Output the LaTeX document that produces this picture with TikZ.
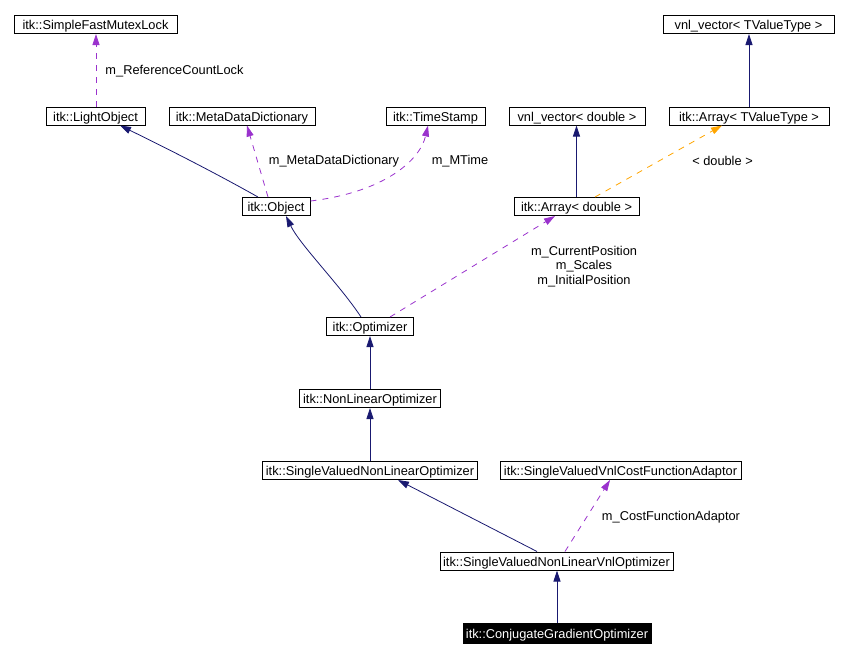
\documentclass[tikz,border=0pt]{standalone}
\usepackage{fontspec}
\setmainfont{Liberation Sans}
\usepackage{xcolor}
\usepackage{tikz}
\usetikzlibrary{arrows.meta, positioning, calc}

\definecolor{inhnavy}{RGB}{25,25,112}
\definecolor{usepurple}{RGB}{154,50,205}
\definecolor{tplorange}{RGB}{255,165,0}

\begin{document}
\begin{tikzpicture}[
  x=1pt, y=-1pt,
  % Node styles
  cls/.style={draw=black, fill=white, text=black, line width=1pt, inner sep=0pt,
              minimum height=18pt, text height=10pt, text depth=0pt,
              font=\fontsize{12.8}{15}\selectfont},
  self/.style={cls, fill=black, text=white},
  lbl/.style={font=\fontsize{12.8}{14.5}\selectfont, text=black, align=center, inner sep=0pt},
  % Arrow styles
  inh/.style={-{Triangle[length=11pt, width=7pt]}, color=inhnavy, line width=0.8pt},
  use/.style={-{Triangle[length=11pt, width=7pt]}, color=usepurple, line width=0.8pt,
              dash pattern=on 6pt off 6pt},
  tpl/.style={-{Triangle[length=11pt, width=7pt]}, color=tplorange, line width=0.8pt,
              dash pattern=on 6pt off 6pt},
]
  \useasboundingbox (0,0) rectangle (848,657);

  % ── Row 1 ──
  \node[cls, minimum width=163pt] (mutex) at (95.5,24.5) {itk::SimpleFastMutexLock};
  \node[cls, minimum width=171pt] (vnlt) at (748.5,24.5) {vnl\_vector< TValueType >};

  % ── Row 2 ──
  \node[cls, minimum width=99pt]  (light) at (95.5,116) {itk::LightObject};
  \node[cls, minimum width=146pt] (meta)  at (242,116) {itk::MetaDataDictionary};
  \node[cls, minimum width=99pt]  (stamp) at (435.5,116) {itk::TimeStamp};
  \node[cls, minimum width=136pt] (vnld)  at (577,116) {vnl\_vector< double >};
  \node[cls, minimum width=160pt] (arrt)  at (749,116) {itk::Array< TValueType >};

  % ── Row 3 ──
  \node[cls, minimum width=68pt]  (obj)  at (276,206.5) {itk::Object};
  \node[cls, minimum width=125pt] (arrd) at (576.5,206.5) {itk::Array< double >};

  % ── Optimizer chain ──
  \node[cls, minimum width=87pt]  (opt)   at (370,326.5) {itk::Optimizer};
  \node[cls, minimum width=141pt] (nlopt) at (370,398.5) {itk::NonLinearOptimizer};
  \node[cls, minimum width=215pt] (svnlo) at (370,470.5) {itk::SingleValuedNonLinearOptimizer};
  \node[cls, minimum width=241pt] (cfa)   at (620.5,470.5) {itk::SingleValuedVnlCostFunctionAdaptor};
  \node[cls, minimum width=233pt] (vnlo)  at (556.5,561) {itk::SingleValuedNonLinearVnlOptimizer};
  \node[self, minimum width=188pt, minimum height=20pt] (cgo) at (557,633) {itk::ConjugateGradientOptimizer};

  % ── Arrows: inheritance ──
  \draw[inh] ([xshift=-18pt]obj.north) .. controls (210,170) and (160,145) .. ([xshift=24.5pt]light.south);
  \draw[inh] ([xshift=-9pt]opt.north) .. controls (340,285) and (300,245) .. ([xshift=10pt]obj.south);
  \draw[inh] (arrd.north) -- (arrd.north |- vnld.south);
  \draw[inh] (arrt.north) -- (arrt.north |- vnlt.south);
  \draw[inh] (nlopt) -- (opt);
  \draw[inh] (svnlo) -- (nlopt);
  \draw[inh] ([xshift=-19.5pt]vnlo.north) -- ([xshift=28pt]svnlo.south);
  \draw[inh] (cgo.north) -- (cgo.north |- vnlo.south);

  % ── Arrows: members (dashed) ──
  \draw[use] ([xshift=0.5pt]light.north) -- ([xshift=0.5pt]mutex.south);
  \node[lbl] (lref) at (174.5,71) {m\_ReferenceCountLock};
  \draw[use] ([xshift=-8pt]obj.north) -- ([xshift=5pt]meta.south);
  \node[lbl] (lmeta) at (334,161) {m\_MetaDataDictionary};
  \draw[use] ([yshift=-4pt]obj.north east) .. controls (385,192) and (420,160) .. ([xshift=-7.5pt]stamp.south);
  \node[lbl] (ltime) at (460,161) {m\_MTime};
  \draw[use] ([xshift=20pt]opt.north) -- ([xshift=-21.5pt]arrd.south);
  \node[lbl] (lpos) at (584,266.5) {m\_CurrentPosition\\m\_Scales\\m\_InitialPosition};
  \draw[use] ([xshift=8.5pt]vnlo.north) -- ([xshift=-10.5pt]cfa.south);
  \node[lbl] (lcost) at (671,517) {m\_CostFunctionAdaptor};

  % ── Template instance ──
  \draw[tpl] ([xshift=18.5pt]arrd.north) -- ([xshift=-27pt]arrt.south);
  \node[lbl] (ldbl) at (722.5,161) {< double >};

\end{tikzpicture}
\end{document}
